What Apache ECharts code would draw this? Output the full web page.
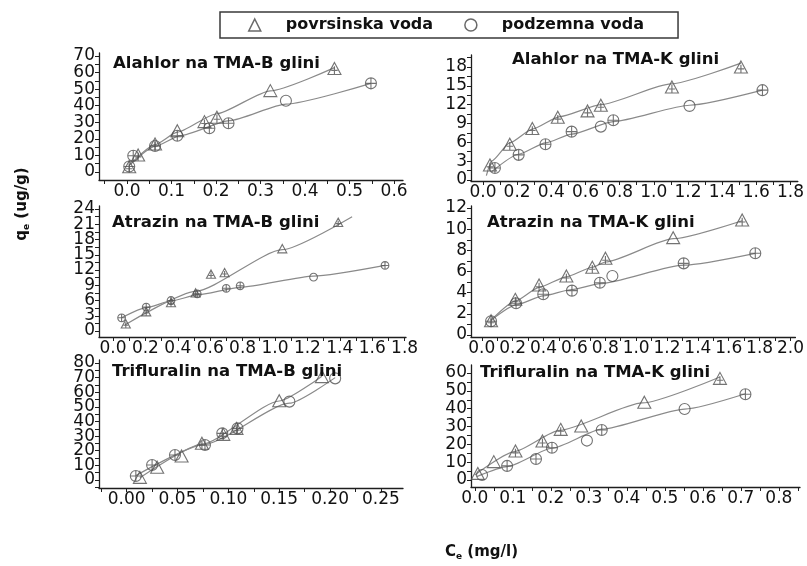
<!DOCTYPE html>
<html><head><meta charset="utf-8">
<script src="https://cdn.jsdelivr.net/npm/echarts@6/dist/echarts.min.js"></script>
<style>html,body{margin:0;padding:0;background:#fff}#c{width:807px;height:566px}</style>
</head><body><div id="c"></div>
<script>
// ---------- DATA ----------
const legendNames = ['povrsinska voda', 'podzemna voda'];
const panelTitles = ['Alahlor na TMA-B glini', 'Alahlor na TMA-K glini', 'Atrazin na TMA-B glini',
  'Atrazin na TMA-K glini', 'Trifluralin na TMA-B glini', 'Trifluralin na TMA-K glini'];
const yAxisName = 'q';  const yAxisSub = 'e'; const yAxisUnit = ' (ug/g)';
const xAxisName = 'C';  const xAxisSub = 'e'; const xAxisUnit = ' (mg/l)';

// tick labels
const p1XTicks = [0, 0.1, 0.2, 0.3, 0.4, 0.5, 0.6];
const p1YTicks = [0, 10, 20, 30, 40, 50, 60, 70];
const p2XTicks = [0, 0.2, 0.4, 0.6, 0.8, 1.0, 1.2, 1.4, 1.6, 1.8];
const p2YTicks = [0, 3, 6, 9, 12, 15, 18];
const p3XTicks = [0, 0.2, 0.4, 0.6, 0.8, 1.0, 1.2, 1.4, 1.6, 1.8];
const p3YTicks = [0, 3, 6, 9, 12, 15, 18, 21, 24];
const p4XTicks = [0, 0.2, 0.4, 0.6, 0.8, 1.0, 1.2, 1.4, 1.6, 1.8, 2.0];
const p4YTicks = [0, 2, 4, 6, 8, 10, 12];
const p5XTicks = [0, 0.05, 0.10, 0.15, 0.20, 0.25];
const p5YTicks = [0, 10, 20, 30, 40, 50, 60, 70, 80];
const p6XTicks = [0, 0.1, 0.2, 0.3, 0.4, 0.5, 0.6, 0.7, 0.8];
const p6YTicks = [0, 10, 20, 30, 40, 50, 60];

// measured points [Ce, qe]; *Err = 1 when the marker carries a "+" error cross
// Alahlor TMA-B
const p1Tri = [[0.005,3.2],[0.025,10.3],[0.063,16.9],[0.113,24.9],[0.174,30.4],[0.202,33.0],[0.322,49.1],[0.466,62.5]];
const p1TriErr = [1,1,1,0,1,1,0,1];
const p1Circ = [[0.005,3.3],[0.014,9.8],[0.063,15.7],[0.113,21.9],[0.185,26.4],[0.228,29.4],[0.357,43.0],[0.548,53.5]];
const p1CircErr = [1,1,1,1,1,1,0,1];
const p1TriFit = [[0.005,4],[0.063,16.5],[0.113,24],[0.2,35],[0.322,49],[0.466,63]];
const p1CircFit = [[0.005,4],[0.063,15.5],[0.12,22],[0.23,31],[0.357,41],[0.548,53.5]];
// Alahlor TMA-K
const p2Tri = [[0.041,2.4],[0.157,5.7],[0.289,8.2],[0.438,10.0],[0.612,11.0],[0.69,11.9],[1.106,14.8],[1.51,18.0]];
const p2TriErr = [1,1,1,1,1,1,1,1];
const p2Circ = [[0.07,1.9],[0.209,4.0],[0.366,5.7],[0.519,7.7],[0.69,8.5],[0.763,9.5],[1.209,11.8],[1.636,14.3]];
const p2CircErr = [1,1,1,1,0,1,0,1];
const p2TriFit = [[0.02,0.7],[0.05,3.0],[0.157,5.9],[0.289,8.1],[0.45,10.1],[0.69,12.0],[1.1,15.3],[1.51,18.6]];
const p2CircFit = [[0.05,1.3],[0.209,4.1],[0.366,5.9],[0.52,7.3],[0.763,9.3],[1.209,11.9],[1.636,14.3]];
// Atrazin TMA-B
const p3Tri = [[0.079,1.4],[0.205,3.8],[0.358,5.6],[0.51,7.5],[0.605,11.2],[0.689,11.5],[1.045,16.2],[1.39,21.4]];
const p3TriErr = [1,1,1,1,1,1,0,1];
const p3Circ = [[0.053,2.6],[0.205,4.7],[0.358,6.0],[0.52,7.3],[0.699,8.4],[0.785,8.9],[1.238,10.6],[1.679,12.9]];
const p3CircErr = [1,1,1,1,1,1,0,1];
const p3TriFit = [[0.073,1.2],[0.51,7.8],[1.045,16.0],[1.476,22.5]];
const p3CircFit = [[0.053,2.6],[0.205,4.6],[0.358,5.9],[0.52,7.1],[0.785,8.6],[1.238,10.8],[1.679,12.9]];
// Atrazin TMA-K
const p4Tri = [[0.06,1.35],[0.217,3.37],[0.371,4.73],[0.548,5.58],[0.716,6.4],[0.801,7.25],[1.24,9.2],[1.687,10.87]];
const p4TriErr = [1,1,1,1,1,1,0,1];
const p4Circ = [[0.06,1.3],[0.222,3.0],[0.398,3.85],[0.584,4.19],[0.765,4.94],[0.846,5.58],[1.308,6.77],[1.772,7.72]];
const p4CircErr = [1,1,1,1,1,0,1,1];
const p4TriFit = [[0.06,1.4],[0.217,3.2],[0.371,4.5],[0.548,5.5],[0.716,6.4],[0.801,6.9],[1.24,9.1],[1.687,10.8]];
const p4CircFit = [[0.06,1.4],[0.222,2.85],[0.398,3.7],[0.584,4.3],[0.765,4.85],[1.308,6.6],[1.772,7.72]];
// Trifluralin TMA-B
const p5Tri = [[0.013,1.8],[0.030,8.7],[0.054,16.4],[0.074,25.1],[0.095,31.2],[0.108,35.3],[0.150,54.2],[0.192,70.7]];
const p5TriErr = [0,0,0,1,1,1,0,0];
const p5Circ = [[0.009,2.7],[0.025,10.3],[0.0475,17.1],[0.077,23.9],[0.094,31.9],[0.109,35.3],[0.160,53.6],[0.205,69.5]];
const p5CircErr = [1,1,1,1,1,1,0,0];
const p5TriFit = [[0.013,1.5],[0.074,24.5],[0.15,54],[0.192,71]];
const p5CircFit = [[0.009,3],[0.077,24.5],[0.16,52.5],[0.205,70]];
// Trifluralin TMA-K
const p6Tri = [[0.008,3.7],[0.05,10.3],[0.107,16.3],[0.178,21.9],[0.226,28.4],[0.28,30.3],[0.446,43.6],[0.645,57.0]];
const p6TriErr = [0,0,1,1,1,0,0,1];
const p6Circ = [[0.019,2.8],[0.085,7.9],[0.161,11.8],[0.203,18.1],[0.295,22.1],[0.334,28.0],[0.552,39.8],[0.712,48.1]];
const p6CircErr = [0,1,1,1,0,1,0,1];
const p6TriFit = [[0.0,2.8],[0.104,15.9],[0.222,27.8],[0.441,43.2],[0.645,57.8]];
const p6CircFit = [[0.005,1.9],[0.085,7.5],[0.203,17.8],[0.334,28.5],[0.552,39.8],[0.712,48.4]];

// ---------- LAYOUT ----------
const FONT = 'DejaVu Sans';
const panels = [
  {grid:{left:99, top:53, width:304, height:127}, x:[-0.0629,0.620], y:[-4.83,71.8], xt:p1XTicks, yt:p1YTicks, dec:1,
   tri:p1Tri, triErr:p1TriErr, circ:p1Circ, circErr:p1CircErr, triFit:p1TriFit, circFit:p1CircFit, title:{left:113, top:55}, ms:1},
  {grid:{left:471, top:55, width:329, height:126}, x:[-0.070,1.843], y:[-0.16,19.9], xt:p2XTicks, yt:p2YTicks, dec:1,
   tri:p2Tri, triErr:p2TriErr, circ:p2Circ, circErr:p2CircErr, triFit:p2TriFit, circFit:p2CircFit, title:{left:512, top:51}, ms:1},
  {grid:{left:99, top:206, width:307, height:131}, x:[-0.0864,1.8086], y:[-1.18,24.6], xt:p3XTicks, yt:p3YTicks, dec:1,
   tri:p3Tri, triErr:p3TriErr, circ:p3Circ, circErr:p3CircErr, triFit:p3TriFit, circFit:p3CircFit, title:{left:112, top:214}, ms:0.7},
  {grid:{left:471, top:206, width:329, height:131}, x:[-0.070,2.032], y:[-0.19,12.19], xt:p4XTicks, yt:p4YTicks, dec:1,
   tri:p4Tri, triErr:p4TriErr, circ:p4Circ, circErr:p4CircErr, triFit:p4TriFit, circFit:p4CircFit, title:{left:487, top:214}, ms:1},
  {grid:{left:99, top:360, width:304, height:128}, x:[-0.0272,0.2717], y:[-5.47,82.05], xt:p5XTicks, yt:p5YTicks, dec:2,
   tri:p5Tri, triErr:p5TriErr, circ:p5Circ, circErr:p5CircErr, triFit:p5TriFit, circFit:p5CircFit, title:{left:112, top:363}, ms:1},
  {grid:{left:471, top:365, width:329, height:122}, x:[-0.01,0.8556], y:[-3.93,64.5], xt:p6XTicks, yt:p6YTicks, dec:1,
   tri:p6Tri, triErr:p6TriErr, circ:p6Circ, circErr:p6CircErr, triFit:p6TriFit, circFit:p6CircFit, title:{left:480, top:364}, ms:1}
];

const TRI_PLUS = 'path://M6,0L12,11L0,11ZM6,3.5L6,11M3,7.3L9,7.3';
const CIRC_PLUS = 'path://M0,6A6,6,0,1,1,12,6A6,6,0,1,1,0,6ZM6,0L6,12M0,6L12,6';
const EPS = 1e-6;

function withMinors(ticks, min, max) {
  const out = ticks.slice();
  const step = ticks[1] - ticks[0];
  for (let i = 0; i < ticks.length - 1; i++) out.push((ticks[i] + ticks[i + 1]) / 2);
  const lo = ticks[0] - step / 2, hi = ticks[ticks.length - 1] + step / 2;
  if (lo >= min) out.push(lo);
  if (hi <= max) out.push(hi);
  return out.filter(v => v >= min - 1e-9 && v <= max + 1e-9).sort((a, b) => a - b);
}
// padded with hidden end values so that ECharts' min/max-label overlap check never drops a real label
function padEnds(vals, min, max) { return [min + EPS].concat(vals, [max - EPS]); }
function isTick(v, ticks) { return ticks.some(t => Math.abs(t - v) < 1e-9); }
function markerData(pts, err, plainSym, plusSym) {
  return pts.map((p, k) => ({value:p, symbol: err[k] ? plusSym : plainSym}));
}

const AX = '#1e1e1e';
const grids = [], xAxes = [], yAxes = [], series = [], titles = [];
panels.forEach((p, i) => {
  grids.push(Object.assign({containLabel:false}, p.grid));
  xAxes.push({type:'value', gridIndex:i, min:p.x[0], max:p.x[1],
    axisLine:{onZero:false, lineStyle:{color:AX, width:1.3}},
    axisTick:{customValues:withMinors(p.xt, p.x[0], p.x[1]), length:4, lineStyle:{color:AX, width:1}},
    axisLabel:{customValues:p.xt.filter(v => v <= p.x[1] + 1e-9), formatter:v => v.toFixed(p.dec), color:'#111',
      fontFamily:FONT, fontSize:17, margin:3, showMinLabel:true, showMaxLabel:true, hideOverlap:false},
    splitLine:{show:false}});
  yAxes.push({type:'value', gridIndex:i, min:p.y[0], max:p.y[1],
    axisLine:{onZero:false, lineStyle:{color:AX, width:1.3}},
    axisTick:{customValues:padEnds(withMinors(p.yt, p.y[0], p.y[1]), p.y[0], p.y[1]), length:4,
      lineStyle:{color:AX, width:1}},
    axisLabel:{customValues:padEnds(p.yt, p.y[0], p.y[1]), formatter:v => isTick(v, p.yt) ? String(Math.round(v)) : '',
      color:'#111', fontFamily:FONT, fontSize:17, margin:4,
      showMinLabel:false, showMaxLabel:false, hideOverlap:false},
    splitLine:{show:false}});
  const lineStyle = {color:'#8a8a8a', width:1.2};
  series.push({type:'line', name:'fitTri' + i, xAxisIndex:i, yAxisIndex:i, data:p.triFit, symbol:'none',
    smooth:0.2, smoothMonotone:'x', lineStyle, silent:true, z:1});
  series.push({type:'line', name:'fitCirc' + i, xAxisIndex:i, yAxisIndex:i, data:p.circFit, symbol:'none',
    smooth:0.2, smoothMonotone:'x', lineStyle, silent:true, z:1});
  series.push({type:'scatter', name:legendNames[0], xAxisIndex:i, yAxisIndex:i,
    data:markerData(p.tri, p.triErr, 'triangle', TRI_PLUS), symbol:'triangle',
    symbolSize:[13 * p.ms, 12 * p.ms], itemStyle:{color:'rgba(255,255,255,0)', borderColor:'#505050', borderWidth:1.1}, z:3});
  series.push({type:'scatter', name:legendNames[1], xAxisIndex:i, yAxisIndex:i,
    data:markerData(p.circ, p.circErr, 'circle', CIRC_PLUS), symbol:'circle',
    symbolSize:11 * p.ms, itemStyle:{color:'rgba(255,255,255,0)', borderColor:'#505050', borderWidth:1.1}, z:3});
  titles.push({text:panelTitles[i], left:p.title.left, top:p.title.top, padding:0,
    textStyle:{fontFamily:FONT, fontWeight:'bold', fontSize:16.5, color:'#111'}});
});

const chart = echarts.init(document.getElementById('c'), null, {renderer:'canvas'});
chart.setOption({
  backgroundColor:'#ffffff',
  animation:false,
  title:titles,
  legend:{
    data:[{name:legendNames[0], icon:'triangle'}, {name:legendNames[1], icon:'circle'}],
    left:220, top:12, orient:'horizontal',
    padding:[5, 34, 5, 28], itemGap:31, itemWidth:12, itemHeight:12,
    borderColor:'#3a3a3a', borderWidth:1.5,
    itemStyle:{color:'rgba(255,255,255,0)', borderColor:'#444', borderWidth:1.5},
    textStyle:{fontFamily:FONT, fontWeight:'bold', fontSize:16, color:'#111', padding:[0, 0, 0, 20]},
    selectedMode:false
  },
  grid:grids, xAxis:xAxes, yAxis:yAxes, series:series,
  graphic:[
    {type:'text', x:22, y:204, rotation:Math.PI / 2,
     style:{text:'{m|' + yAxisName + '}{s|' + yAxisSub + '}{m|' + yAxisUnit + '}', align:'center', verticalAlign:'middle',
       rich:{m:{fontFamily:FONT, fontWeight:'bold', fontSize:15, fill:'#111'},
             s:{fontFamily:FONT, fontWeight:'bold', fontSize:9, fill:'#111', padding:[9, 0, 0, 0]}}}},
    {type:'text', x:445, y:543,
     style:{text:'{m|' + xAxisName + '}{s|' + xAxisSub + '}{m|' + xAxisUnit + '}', align:'left', verticalAlign:'top',
       rich:{m:{fontFamily:FONT, fontWeight:'bold', fontSize:15, fill:'#111'},
             s:{fontFamily:FONT, fontWeight:'bold', fontSize:9, fill:'#111', padding:[9, 0, 0, 0]}}}}
  ]
});
</script></body></html>
